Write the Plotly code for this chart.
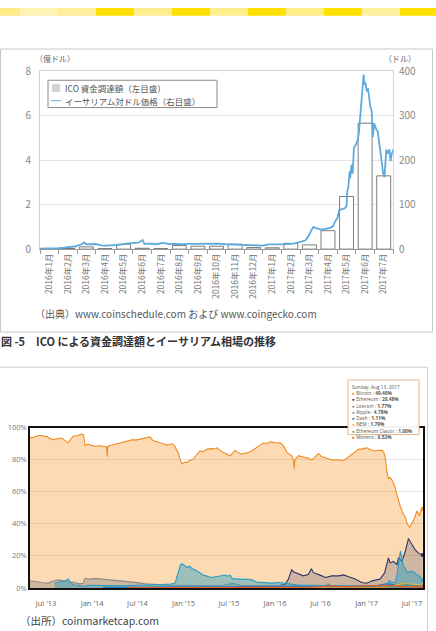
import plotly.graph_objects as go

W, H = 436, 631
def X(px): return px / W
def Y(py): return 1 - py / H

JP = "Noto Sans CJK JP"
OS = "Open Sans"

# ---------------- top chart data ----------------
ICO_MONTHS = ["2016年1月", "2016年2月", "2016年3月", "2016年4月", "2016年5月", "2016年6月",
              "2016年7月", "2016年8月", "2016年9月", "2016年10月", "2016年11月", "2016年12月",
              "2017年1月", "2017年2月", "2017年3月", "2017年4月", "2017年5月", "2017年6月", "2017年7月"]
ICO_FUNDS = [0.02, 0.03, 0.10, 0.02, 0.22, 0.04, 0.02, 0.16, 0.13, 0.13, 0.22, 0.07,
             0.06, 0.26, 0.19, 0.83, 2.37, 5.67, 3.30]          # 億ドル
LEFT_TICKS = [0, 2, 4, 6, 8]
RIGHT_TICKS = [0, 100, 200, 300, 400]

ETH_PRICE = [  # ドル
    ("2016-01-01", 0.95), ("2016-01-10", 1.0), ("2016-01-20", 1.5), ("2016-01-31", 2.3),
    ("2016-02-10", 3.5), ("2016-02-20", 4.5), ("2016-02-29", 6.5), ("2016-03-05", 9),
    ("2016-03-10", 11.5), ("2016-03-13", 15), ("2016-03-17", 11), ("2016-03-25", 11),
    ("2016-04-01", 11.5), ("2016-04-10", 8.5), ("2016-04-20", 7.7), ("2016-04-30", 8.8),
    ("2016-05-10", 9.5), ("2016-05-20", 12.5), ("2016-05-31", 14), ("2016-06-10", 14.5),
    ("2016-06-17", 20.5), ("2016-06-20", 12), ("2016-06-30", 12.5), ("2016-07-10", 11),
    ("2016-07-20", 14), ("2016-07-31", 11.5), ("2016-08-10", 12), ("2016-08-20", 11),
    ("2016-08-31", 12), ("2016-09-10", 12), ("2016-09-20", 13), ("2016-09-30", 13.2),
    ("2016-10-10", 12), ("2016-10-20", 12.2), ("2016-10-31", 11), ("2016-11-10", 10.5),
    ("2016-11-20", 9.8), ("2016-11-30", 8.5), ("2016-12-10", 8.2), ("2016-12-20", 7.5),
    ("2016-12-31", 8), ("2017-01-10", 10.5), ("2017-01-20", 10.6), ("2017-01-31", 10.7),
    ("2017-02-10", 11.3), ("2017-02-20", 12.6), ("2017-02-28", 15.7), ("2017-03-05", 19),
    ("2017-03-10", 19.3), ("2017-03-12", 22), ("2017-03-15", 28), ("2017-03-18", 35),
    ("2017-03-20", 42), ("2017-03-24", 50), ("2017-03-27", 48), ("2017-03-31", 46),
    ("2017-04-05", 44), ("2017-04-10", 45), ("2017-04-15", 47), ("2017-04-20", 48),
    ("2017-04-25", 52), ("2017-04-28", 62), ("2017-05-02", 70), ("2017-05-05", 88),
    ("2017-05-10", 90), ("2017-05-14", 92), ("2017-05-17", 97), ("2017-05-18", 130),
    ("2017-05-20", 140), ("2017-05-22", 175), ("2017-05-23", 160), ("2017-05-25", 190),
    ("2017-05-27", 170), ("2017-05-29", 228), ("2017-06-01", 235), ("2017-06-04", 245),
    ("2017-06-06", 260), ("2017-06-08", 300), ("2017-06-10", 318), ("2017-06-12", 360),
    ("2017-06-14", 393), ("2017-06-15", 370), ("2017-06-17", 375), ("2017-06-19", 355),
    ("2017-06-21", 362), ("2017-06-23", 340), ("2017-06-25", 320), ("2017-06-27", 312),
    ("2017-06-29", 252), ("2017-07-01", 283), ("2017-07-03", 275), ("2017-07-05", 268),
    ("2017-07-07", 265), ("2017-07-10", 230), ("2017-07-13", 202), ("2017-07-16", 170),
    ("2017-07-18", 162), ("2017-07-20", 200), ("2017-07-21", 224), ("2017-07-24", 215),
    ("2017-07-26", 225), ("2017-07-28", 198), ("2017-07-30", 215), ("2017-08-02", 225),
    ("2017-08-05", 242),
]

# ---------------- bottom chart data (share of total market cap, %) ----------------
BTC = [
    ("2013-04-28", 94.0), ("2013-05-05", 93.6), ("2013-05-20", 94.5), ("2013-06-07", 95.3),
    ("2013-06-20", 94.8), ("2013-07-04", 94.6), ("2013-07-15", 93.5), ("2013-07-30", 92.6),
    ("2013-08-15", 93.2), ("2013-09-02", 93.6), ("2013-09-15", 92.0), ("2013-09-28", 90.6),
    ("2013-10-08", 93.0), ("2013-10-18", 94.8), ("2013-11-01", 95.0), ("2013-11-20", 96.0),
    ("2013-11-28", 95.5), ("2013-12-04", 88.8), ("2013-12-15", 89.8), ("2013-12-24", 89.4),
    ("2014-01-10", 88.5), ("2014-02-02", 88.8), ("2014-02-15", 88.5), ("2014-02-28", 88.0),
    ("2014-03-02", 81.9), ("2014-03-04", 88.5), ("2014-03-26", 89.4), ("2014-04-10", 90.0),
    ("2014-04-23", 90.6), ("2014-05-05", 91.0), ("2014-05-19", 91.6), ("2014-06-01", 92.0),
    ("2014-06-13", 92.6), ("2014-06-25", 92.3), ("2014-07-11", 93.0), ("2014-07-25", 93.3),
    ("2014-08-12", 94.0), ("2014-08-20", 94.3), ("2014-09-01", 92.0), ("2014-09-15", 91.5),
    ("2014-09-29", 90.6), ("2014-10-12", 90.0), ("2014-10-26", 89.2), ("2014-11-05", 89.5),
    ("2014-11-15", 90.0), ("2014-11-25", 89.0), ("2014-12-05", 86.5), ("2014-12-12", 84.0),
    ("2014-12-18", 80.4), ("2014-12-25", 77.4), ("2015-01-05", 78.5), ("2015-01-14", 78.4),
    ("2015-01-25", 79.5), ("2015-02-09", 80.4), ("2015-02-22", 83.0), ("2015-03-08", 85.5),
    ("2015-03-20", 85.0), ("2015-04-04", 86.5), ("2015-04-20", 87.0), ("2015-05-01", 86.8),
    ("2015-05-14", 87.5), ("2015-05-25", 86.0), ("2015-06-09", 84.5), ("2015-06-20", 83.8),
    ("2015-07-06", 82.5), ("2015-07-15", 84.0), ("2015-07-26", 85.9), ("2015-08-05", 84.5),
    ("2015-08-22", 83.5), ("2015-09-01", 84.0), ("2015-09-17", 84.5), ("2015-10-01", 85.5),
    ("2015-10-21", 88.0), ("2015-11-05", 89.5), ("2015-11-16", 90.6), ("2015-11-30", 90.2),
    ("2015-12-13", 91.2), ("2015-12-25", 90.8), ("2016-01-10", 90.5), ("2016-01-22", 90.6),
    ("2016-02-05", 88.5), ("2016-02-18", 84.5), ("2016-02-28", 83.5), ("2016-03-08", 82.5),
    ("2016-03-14", 80.0), ("2016-03-18", 74.4), ("2016-03-20", 80.0), ("2016-04-04", 82.6),
    ("2016-04-15", 82.0), ("2016-05-01", 81.5), ("2016-05-15", 81.0), ("2016-05-27", 79.8),
    ("2016-06-08", 81.5), ("2016-06-23", 83.9), ("2016-07-05", 82.0), ("2016-07-20", 81.5),
    ("2016-08-05", 80.5), ("2016-08-22", 79.8), ("2016-09-10", 80.0), ("2016-10-01", 79.4),
    ("2016-10-15", 81.0), ("2016-11-03", 83.5), ("2016-11-15", 84.5), ("2016-11-30", 86.5),
    ("2016-12-15", 86.8), ("2017-01-02", 87.5), ("2017-01-15", 86.5), ("2017-01-29", 85.5),
    ("2017-02-15", 86.0), ("2017-03-03", 85.9), ("2017-03-10", 85.0), ("2017-03-16", 81.5),
    ("2017-03-23", 72.3), ("2017-03-29", 68.3), ("2017-04-05", 69.0), ("2017-04-12", 67.3),
    ("2017-04-22", 64.0), ("2017-05-02", 59.1), ("2017-05-08", 55.0), ("2017-05-15", 51.0),
    ("2017-05-22", 47.5), ("2017-05-28", 46.0), ("2017-06-05", 44.0), ("2017-06-12", 40.0),
    ("2017-06-21", 37.9), ("2017-06-28", 39.5), ("2017-07-07", 42.0), ("2017-07-14", 45.0),
    ("2017-07-21", 48.0), ("2017-07-26", 46.5), ("2017-07-31", 45.0), ("2017-08-05", 48.0),
    ("2017-08-10", 50.0), ("2017-08-13", 49.40),
]
ETH = [
    ("2015-08-08", 0.6), ("2015-08-25", 1.3), ("2015-09-15", 1.0), ("2015-10-15", 0.8),
    ("2015-11-15", 1.0), ("2015-12-15", 1.1), ("2016-01-15", 1.3), ("2016-01-31", 2.0),
    ("2016-02-11", 2.4), ("2016-02-24", 5.5), ("2016-03-08", 11.5), ("2016-03-14", 10.0),
    ("2016-03-22", 9.5), ("2016-04-04", 8.5), ("2016-04-24", 7.5), ("2016-05-14", 8.5),
    ("2016-05-25", 12.0), ("2016-06-03", 9.5), ("2016-06-16", 8.9), ("2016-07-06", 7.5),
    ("2016-07-20", 6.5), ("2016-08-15", 7.5), ("2016-09-11", 7.5), ("2016-10-01", 8.1),
    ("2016-10-21", 6.9), ("2016-11-16", 5.5), ("2016-12-13", 3.4), ("2017-01-02", 2.9),
    ("2017-01-22", 4.4), ("2017-02-24", 5.5), ("2017-03-14", 9.5), ("2017-03-29", 18.7),
    ("2017-04-05", 15.6), ("2017-04-18", 16.6), ("2017-05-02", 14.6), ("2017-05-08", 18.7),
    ("2017-05-22", 16.6), ("2017-06-04", 22.7), ("2017-06-17", 30.8), ("2017-07-01", 26.7),
    ("2017-07-14", 23.7), ("2017-07-27", 21.7), ("2017-08-10", 20.7), ("2017-08-13", 20.48),
]
LTC = [
    ("2013-04-28", 4.5), ("2013-05-15", 4.0), ("2013-06-01", 3.5), ("2013-06-20", 3.2),
    ("2013-07-10", 3.0), ("2013-08-01", 4.5), ("2013-08-20", 5.0), ("2013-09-10", 4.2),
    ("2013-10-01", 3.8), ("2013-10-20", 3.5), ("2013-11-10", 2.5), ("2013-11-25", 2.8),
    ("2013-12-04", 6.0), ("2013-12-20", 5.5), ("2014-01-10", 5.8), ("2014-02-01", 5.6),
    ("2014-03-01", 5.2), ("2014-04-01", 4.8), ("2014-05-01", 4.5), ("2014-06-01", 4.0),
    ("2014-07-01", 3.3), ("2014-08-01", 2.6), ("2014-09-01", 2.2), ("2014-10-01", 1.8),
    ("2014-11-01", 1.7), ("2014-12-01", 1.6), ("2015-01-01", 1.5), ("2015-03-01", 1.4),
    ("2015-06-01", 1.3), ("2015-07-15", 2.8), ("2015-08-15", 1.6), ("2015-10-01", 1.3),
    ("2015-12-01", 1.3), ("2016-03-01", 1.4), ("2016-06-01", 1.2), ("2016-09-01", 1.2),
    ("2016-12-01", 1.4), ("2017-02-01", 1.3), ("2017-04-01", 1.5), ("2017-05-10", 2.5),
    ("2017-06-01", 2.5), ("2017-07-01", 2.0), ("2017-08-13", 1.77),
]
XRP = [
    ("2013-08-04", 2.9), ("2013-08-25", 3.5), ("2013-09-15", 4.5), ("2013-09-28", 5.5),
    ("2013-10-05", 3.5), ("2013-10-20", 1.8), ("2013-11-10", 1.4), ("2013-12-01", 1.0),
    ("2013-12-20", 1.6), ("2014-01-15", 1.5), ("2014-03-01", 1.6), ("2014-05-01", 1.3),
    ("2014-07-01", 1.6), ("2014-08-15", 1.7), ("2014-10-01", 2.1), ("2014-11-10", 2.4),
    ("2014-11-28", 3.0), ("2014-12-05", 6.5), ("2014-12-12", 10.0), ("2014-12-20", 14.6),
    ("2014-12-28", 15.0), ("2015-01-05", 14.0), ("2015-01-15", 12.7), ("2015-01-25", 13.5),
    ("2015-02-05", 12.0), ("2015-02-20", 11.0), ("2015-03-01", 10.0), ("2015-03-20", 8.0),
    ("2015-04-01", 7.5), ("2015-04-20", 6.5), ("2015-05-10", 7.0), ("2015-06-01", 7.5),
    ("2015-06-15", 8.0), ("2015-06-25", 7.3), ("2015-07-06", 8.0), ("2015-07-15", 5.8),
    ("2015-08-01", 5.5), ("2015-08-25", 5.3), ("2015-09-15", 5.5), ("2015-10-01", 5.0),
    ("2015-10-20", 3.6), ("2015-11-10", 3.4), ("2015-12-01", 3.2), ("2015-12-20", 3.0),
    ("2016-01-20", 3.4), ("2016-02-20", 2.6), ("2016-04-01", 1.7), ("2016-06-01", 1.6),
    ("2016-08-01", 1.3), ("2016-10-01", 1.3), ("2016-12-01", 1.3), ("2017-01-15", 1.2),
    ("2017-03-01", 1.1), ("2017-03-25", 1.9), ("2017-04-02", 4.5), ("2017-04-10", 3.3),
    ("2017-04-25", 3.5), ("2017-05-01", 6.5), ("2017-05-05", 10.0), ("2017-05-10", 17.0),
    ("2017-05-16", 23.0), ("2017-05-22", 17.0), ("2017-05-28", 13.5), ("2017-06-05", 12.0),
    ("2017-06-12", 9.5), ("2017-06-22", 10.0), ("2017-07-01", 10.5), ("2017-07-10", 9.5),
    ("2017-07-20", 8.5), ("2017-08-01", 7.0), ("2017-08-13", 4.78),
]
DASH = [
    ("2014-02-14", 0.3), ("2014-05-01", 0.5), ("2014-08-01", 0.4), ("2014-11-01", 0.5),
    ("2015-02-01", 0.5), ("2015-06-01", 0.4), ("2015-10-01", 0.5), ("2016-01-01", 0.6),
    ("2016-03-01", 0.8), ("2016-06-01", 0.7), ("2016-09-01", 0.6), ("2016-12-01", 0.8),
    ("2017-02-01", 1.2), ("2017-03-20", 2.6), ("2017-05-01", 1.8), ("2017-06-10", 1.8),
    ("2017-07-10", 1.6), ("2017-08-13", 1.11),
]
NEM = [
    ("2015-04-01", 0.05), ("2015-09-01", 0.05), ("2016-01-01", 0.05), ("2016-03-01", 0.3),
    ("2016-06-01", 0.2), ("2016-09-01", 0.2), ("2016-12-01", 0.1), ("2017-02-01", 0.2),
    ("2017-03-20", 0.6), ("2017-04-20", 1.5), ("2017-05-20", 2.5), ("2017-06-10", 2.5),
    ("2017-07-10", 2.0), ("2017-08-13", 1.79),
]
ETC = [
    ("2016-07-24", 0.8), ("2016-07-30", 2.5), ("2016-08-10", 1.5), ("2016-09-01", 1.0),
    ("2016-11-01", 0.8), ("2017-01-01", 1.2), ("2017-03-01", 1.3), ("2017-04-15", 0.9),
    ("2017-05-20", 1.5), ("2017-06-10", 1.9), ("2017-07-10", 1.4), ("2017-08-13", 1.00),
]
XMR = [
    ("2014-05-21", 0.05), ("2014-09-01", 0.3), ("2015-01-01", 0.2), ("2015-06-01", 0.2),
    ("2016-01-01", 0.1), ("2016-03-01", 0.4), ("2016-06-01", 0.5), ("2016-08-25", 1.3),
    ("2016-09-15", 0.9), ("2016-11-01", 0.8), ("2017-01-01", 1.3), ("2017-03-01", 1.4),
    ("2017-04-15", 1.5), ("2017-06-01", 0.8), ("2017-07-10", 0.6), ("2017-08-13", 0.52),
]
COIN_NAMES = ["Bitcoin", "Ethereum", "Litecoin", "Ripple", "Dash", "NEM", "Ethereum Classic", "Monero"]
COIN_SERIES = [BTC, ETH, LTC, XRP, DASH, NEM, ETC, XMR]
COIN_LINE = ["#f08a24", "#2f3264", "#8c8c8c", "#2a9cc8", "#1c75bc", "#f2b33d", "#4e9a86", "#f15a24"]
COIN_FILL = ["rgba(247,147,26,0.33)", "rgba(47,50,100,0.22)", "rgba(140,130,125,0.40)",
             "rgba(40,160,190,0.45)", "rgba(28,117,188,0.15)", "rgba(242,179,61,0.15)",
             "rgba(78,154,134,0.15)", "rgba(241,90,36,0.15)"]
TIP_DOT = ["#f7931a", "#2b2f5e", "#7d8fa0", "#39a4d8", "#1c75bc", "#f4b840", "#4e9a8a", "#f15a29"]
BOTTOM_TICKS = ["2013-07-01", "2014-01-01", "2014-07-01", "2015-01-01", "2015-07-01",
                "2016-01-01", "2016-07-01", "2017-01-01", "2017-07-01"]
BOTTOM_TICK_TEXT = ["Jul '13", "Jan '14", "Jul '14", "Jan '15", "Jul '15",
                    "Jan '16", "Jul '16", "Jan '17", "Jul '17"]
PCT_TICKS = [0, 20, 40, 60, 80, 100]
PCT_TICK_TEXT = ["0%", "20%", "40%", "60%", "80%", "100%"]

fig = go.Figure()

# ---- top chart traces ----
fig.add_trace(go.Bar(x=ICO_MONTHS, y=ICO_FUNDS, xaxis="x", yaxis="y", width=0.75,
                     marker=dict(color="white", line=dict(color="#5a5a5a", width=0.8)),
                     showlegend=False))
ed, ev = zip(*ETH_PRICE)
fig.add_trace(go.Scatter(x=list(ed), y=list(ev), xaxis="x3", yaxis="y2", mode="lines",
                         line=dict(color="#5eaadc", width=1.8), showlegend=False))

# ---- bottom chart traces ----
for name, ser, lc, fc in zip(COIN_NAMES, COIN_SERIES, COIN_LINE, COIN_FILL):
    d, v = zip(*ser)
    fig.add_trace(go.Scatter(x=list(d), y=list(v), xaxis="x2", yaxis="y3", mode="lines",
                             fill="tozeroy", fillcolor=fc, line=dict(color=lc, width=1.1),
                             name=name, showlegend=False))
for name, ser, lc in zip(COIN_NAMES, COIN_SERIES, TIP_DOT):
    d, v = ser[-1]
    fig.add_trace(go.Scatter(x=[d], y=[v], xaxis="x2", yaxis="y3", mode="markers",
                             marker=dict(color=lc, size=4), showlegend=False, cliponaxis=False))

shapes = []
# yellow band at the top of the page
BAND_COLORS = ["#ffec85", "#fff3b3", "#ffef9a", "#ffe000", "#ffee90", "#ffe000", "#ffee8c",
               "#ffe000", "#ffed85", "#ffe100", "#fff0a0", "#ffe100"]
for i, c in enumerate(BAND_COLORS):
    shapes.append(dict(type="rect", xref="paper", yref="paper", x0=X(i * 38 - 18), x1=X(i * 38 + 20),
                       y0=Y(8), y1=Y(0), fillcolor=c, line=dict(width=0), layer="below"))
# figure frames
shapes.append(dict(type="rect", xref="paper", yref="paper", x0=X(0.5), x1=X(432.5), y0=Y(332), y1=Y(42),
                   line=dict(color="#c8c8c8", width=1), layer="below"))
shapes.append(dict(type="rect", xref="paper", yref="paper", x0=X(-2), x1=X(427.5), y0=Y(640), y1=Y(368),
                   line=dict(color="#cfcfcf", width=1), layer="below"))
# manual legend of top chart
shapes.append(dict(type="rect", xref="paper", yref="paper", x0=X(48), x1=X(217), y0=Y(102), y1=Y(74),
                   line=dict(color="#8a8a8a", width=1), fillcolor="white"))
shapes.append(dict(type="rect", xref="paper", yref="paper", x0=X(52), x1=X(60), y0=Y(86), y1=Y(78),
                   line=dict(width=0), fillcolor="#d2d2d2"))
shapes.append(dict(type="line", xref="paper", yref="paper", x0=X(51), x1=X(61), y0=Y(95), y1=Y(95),
                   line=dict(color="#5eaadc", width=1)))
# tooltip box
shapes.append(dict(type="rect", xref="paper", yref="paper", x0=X(348), x1=X(419), y0=Y(437), y1=Y(381),
                   line=dict(color="#e2b68e", width=1), fillcolor="rgba(255,255,255,0.95)"))

ann = []
def txt(x, y, s, size, color, xanchor="left", yanchor="middle", family=JP, align="left"):
    ann.append(dict(xref="paper", yref="paper", x=X(x), y=Y(y), text=s, showarrow=False,
                    xanchor=xanchor, yanchor=yanchor, align=align,
                    font=dict(family=family, size=size, color=color)))

txt(55, 52, "（億ドル）", 8, "#666", xanchor="center")
txt(400, 52, "（ドル）", 8, "#666", xanchor="center")
txt(63, 82, "ICO 資金調達額（左目盛）", 8.5, "#555")
txt(63, 95, "イーサリアム対ドル価格（右目盛）", 8.5, "#555")
txt(33, 313, "（出典）www.coinschedule.com および www.coingecko.com", 10, "#555")
txt(-1, 341, "<b>図 -5　ICO による資金調達額とイーサリアム相場の推移</b>", 11, "#333")
txt(18, 627, "（出所）coinmarketcap.com", 10.5, "#444")

tip = ["Sunday, Aug 13, 2017"]
for name, ser, dc in zip(COIN_NAMES, COIN_SERIES, TIP_DOT):
    tip.append(f'<span style="color:{dc}">●</span> {name} : <b>{ser[-1][1]:.2f}%</b>')
txt(350, 383, "<br>".join(tip), 4.8, "#555", yanchor="top", family=OS)

fig.update_layout(
    width=W, height=H, autosize=False, margin=dict(l=0, r=0, t=0, b=0),
    paper_bgcolor="white", plot_bgcolor="white", bargap=0.25,
    shapes=shapes, annotations=ann,
    xaxis=dict(domain=[X(40), X(393)], type="category", categoryorder="array", categoryarray=ICO_MONTHS,
               tickangle=-90, ticks="outside", tickson="boundaries", ticklen=4, tickcolor="#999",
               showline=True, linecolor="#999", linewidth=1, showgrid=False,
               tickfont=dict(family=JP, size=8.5, color="#777"), anchor="y"),
    xaxis3=dict(domain=[X(40), X(393)], type="date", overlaying="x", side="top",
                range=["2016-01-01", "2017-08-01"], showticklabels=False, ticks="", showgrid=False,
                showline=True, linecolor="#d4d4d4", anchor="y2"),
    yaxis=dict(domain=[Y(247), Y(65)], range=[0, 8], tickvals=LEFT_TICKS, showgrid=True,
               gridcolor="#e4e4e4", showline=True, linecolor="#d4d4d4", mirror=True, zeroline=False,
               ticks="outside", ticklen=6, tickcolor="rgba(0,0,0,0)",
               tickfont=dict(family=JP, size=10, color="#888"), anchor="x"),
    yaxis2=dict(domain=[Y(247), Y(65)], range=[0, 400], tickvals=RIGHT_TICKS, overlaying="y",
                side="right", showgrid=False, zeroline=False, showline=False, anchor="x",
                ticks="outside", ticklen=3, tickcolor="rgba(0,0,0,0)",
                tickfont=dict(family=JP, size=10, color="#888")),
    xaxis2=dict(domain=[X(30), X(423)], type="date", range=["2013-04-28", "2017-08-14"],
                tickvals=BOTTOM_TICKS, ticktext=BOTTOM_TICK_TEXT, showgrid=False,
                showline=True, mirror=True, linecolor="#111", linewidth=1.5,
                ticks="outside", ticklen=7, tickcolor="rgba(0,0,0,0)",
                tickfont=dict(family=OS, size=7.5, color="#666"), anchor="y3"),
    yaxis3=dict(domain=[Y(594), Y(430)], range=[0, 100], tickvals=PCT_TICKS, ticktext=PCT_TICK_TEXT,
                showgrid=True, gridcolor="#e8e2dc", zeroline=False, showline=True, mirror=True,
                linecolor="#111", linewidth=1.5,
                tickfont=dict(family=OS, size=7.5, color="#777"), anchor="x2"),
)

fig.write_html("out.html")
